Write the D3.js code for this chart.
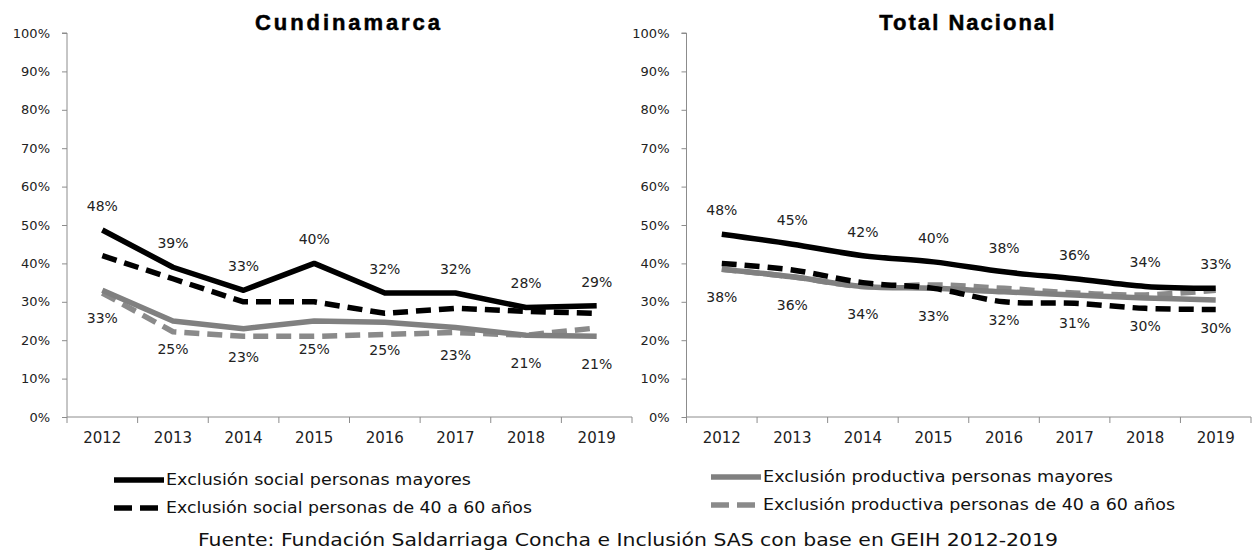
<!DOCTYPE html>
<html><head><meta charset="utf-8">
<script src="https://cdn.jsdelivr.net/npm/d3@7"></script>
<style>
body{margin:0;background:#fff;}
svg{display:block;font-family:"DejaVu Sans",sans-serif;}
</style></head><body>
<svg id="c" width="1252" height="550"></svg>
<script>
const years = ["2012","2013","2014","2015","2016","2017","2018","2019"];
const yTicks = [0,0.1,0.2,0.3,0.4,0.5,0.6,0.7,0.8,0.9,1.0];
const titles = ["Cundinamarca","Total Nacional"];
// Cundinamarca
const cundSocialMayores   = [0.487,0.39,0.33,0.40,0.323,0.323,0.285,0.29];
const cundSocial4060      = [0.42,0.36,0.30,0.30,0.27,0.283,0.275,0.27];
const cundProdMayores     = [0.33,0.25,0.23,0.25,0.247,0.233,0.213,0.21];
const cundProd4060        = [0.323,0.222,0.21,0.21,0.215,0.22,0.213,0.232];
const cundLabelsTop       = ["48%","39%","33%","40%","32%","32%","28%","29%"];
const cundLabelsBottom    = ["33%","25%","23%","25%","25%","23%","21%","21%"];
// Total Nacional
const natSocialMayores    = [0.476,0.45,0.42,0.404,0.378,0.36,0.34,0.335];
const natSocial4060       = [0.40,0.383,0.35,0.335,0.30,0.296,0.283,0.28];
const natProdMayores      = [0.385,0.365,0.34,0.335,0.326,0.318,0.31,0.305];
const natProd4060         = [0.385,0.365,0.34,0.344,0.335,0.323,0.318,0.33];
const natLabelsTop        = ["48%","45%","42%","40%","38%","36%","34%","33%"];
const natLabelsBottom     = ["38%","36%","34%","33%","32%","31%","30%","30%"];
const legendLabels = ["Exclusión social personas mayores","Exclusión social personas de 40 a 60 años",
                      "Exclusión productiva personas mayores","Exclusión productiva personas de 40 a 60 años"];
const source = "Fuente: Fundación Saldarriaga Concha e Inclusión SAS con base en GEIH 2012-2019";

const svg = d3.select("#c");
const BLACK="#000", GRAY="#808080", GRAYD="#8a8a8a";
const styles = [
  {color:BLACK, dash:null},
  {color:BLACK, dash:"15,8"},
  {color:GRAY, dash:null},
  {color:GRAYD, dash:"15,8"}
];

const y = d3.scaleLinear().domain([0,1]).range([417,33]);

function panel(x0, x1, title, seriesList, topLabels, bottomLabels, curve, titleLen){
  const x = d3.scaleBand().domain(years).range([x0,x1]).padding(0);
  const g = svg.append("g");
  // y axis
  const ya = g.append("g").attr("transform",`translate(${x0},0)`)
    .call(d3.axisLeft(y).tickValues(yTicks).tickFormat(d3.format(".0%")).tickSize(5).tickPadding(12));
  ya.selectAll("path,line").attr("stroke","#8c8c8c");
  ya.select(".domain").attr("d",`M-5,${y(1)}H0V${y(0)}`);
  ya.selectAll("text").attr("font-size",13).attr("fill","#222").attr("font-family","DejaVu Sans");
  // x axis
  const xa = g.append("g").attr("transform",`translate(0,${y(0)})`)
    .call(d3.axisBottom(x).tickSize(0).tickPadding(15));
  xa.select(".domain").attr("stroke","#8c8c8c").attr("d",`M${x0},0H${x1}`);
  xa.selectAll("text").attr("font-size",15).attr("fill","#222").attr("font-family","DejaVu Sans");
  const bounds = years.map(d=>x(d)).concat([x1]);
  g.selectAll(".bt").data(bounds).join("line")
    .attr("x1",d=>d).attr("x2",d=>d).attr("y1",y(0)).attr("y2",y(0)+6)
    .attr("stroke","#8c8c8c");
  // title
  g.append("text").attr("x",(x0+x1)/2 - 2).attr("y",30).attr("text-anchor","middle")
    .attr("font-family","Liberation Sans, Arial, sans-serif").attr("font-weight","bold")
    .attr("font-size",22).attr("stroke","#000").attr("stroke-width",0.5)
    .attr("textLength",titleLen).attr("lengthAdjust","spacing").text(title);
  const cx = d => x(d) + x.bandwidth()/2;
  const line = d3.line().x((d,i)=>cx(years[i])).y(d=>y(d)).curve(curve);
  // draw order: productive first, then social
  [3,2,1,0].forEach(k=>{
    g.append("path").datum(seriesList[k]).attr("d",line)
      .attr("fill","none").attr("stroke",styles[k].color).attr("stroke-width",5.5)
      .attr("stroke-dasharray",styles[k].dash).attr("stroke-linejoin","round");
  });
  g.selectAll(".lt").data(topLabels).join("text")
    .attr("x",(d,i)=>cx(years[i])).attr("y",(d,i)=>y(seriesList[0][i])-24)
    .attr("dy","0.35em").attr("text-anchor","middle").attr("font-size",14).attr("fill","#222").text(d=>d);
  g.selectAll(".lb").data(bottomLabels).join("text")
    .attr("x",(d,i)=>cx(years[i])).attr("y",(d,i)=>y(seriesList[2][i])+28)
    .attr("dy","0.35em").attr("text-anchor","middle").attr("font-size",14).attr("fill","#222").text(d=>d);
}

panel(67, 632, titles[0], [cundSocialMayores,cundSocial4060,cundProdMayores,cundProd4060],
      cundLabelsTop, cundLabelsBottom, d3.curveLinear, 185);
panel(686.5, 1251, titles[1], [natSocialMayores,natSocial4060,natProdMayores,natProd4060],
      natLabelsTop, natLabelsBottom, d3.curveCatmullRom.alpha(0.5), 175);

// legend
const legPos = [
  {x:114, y:480, len:305},
  {x:114, y:508, len:366},
  {x:711, y:477, len:350},
  {x:711, y:505, len:412}
];
legendLabels.forEach((t,k)=>{
  const p = legPos[k];
  svg.append("line").attr("x1",p.x).attr("x2",p.x+50).attr("y1",p.y).attr("y2",p.y)
    .attr("stroke",styles[k].color).attr("stroke-width",5.5)
    .attr("stroke-dasharray",styles[k].dash ? "18,8" : null);
  svg.append("text").attr("x",p.x+52).attr("y",p.y).attr("dy","0.35em")
    .attr("font-size",15).attr("fill","#111").attr("textLength",p.len).attr("lengthAdjust","spacingAndGlyphs").text(t);
});

svg.append("text").attr("x",628).attr("y",540).attr("dy","0.35em").attr("text-anchor","middle")
  .attr("font-size",18).attr("fill","#111").attr("textLength",860).attr("lengthAdjust","spacingAndGlyphs").text(source);
</script>
</body></html>
